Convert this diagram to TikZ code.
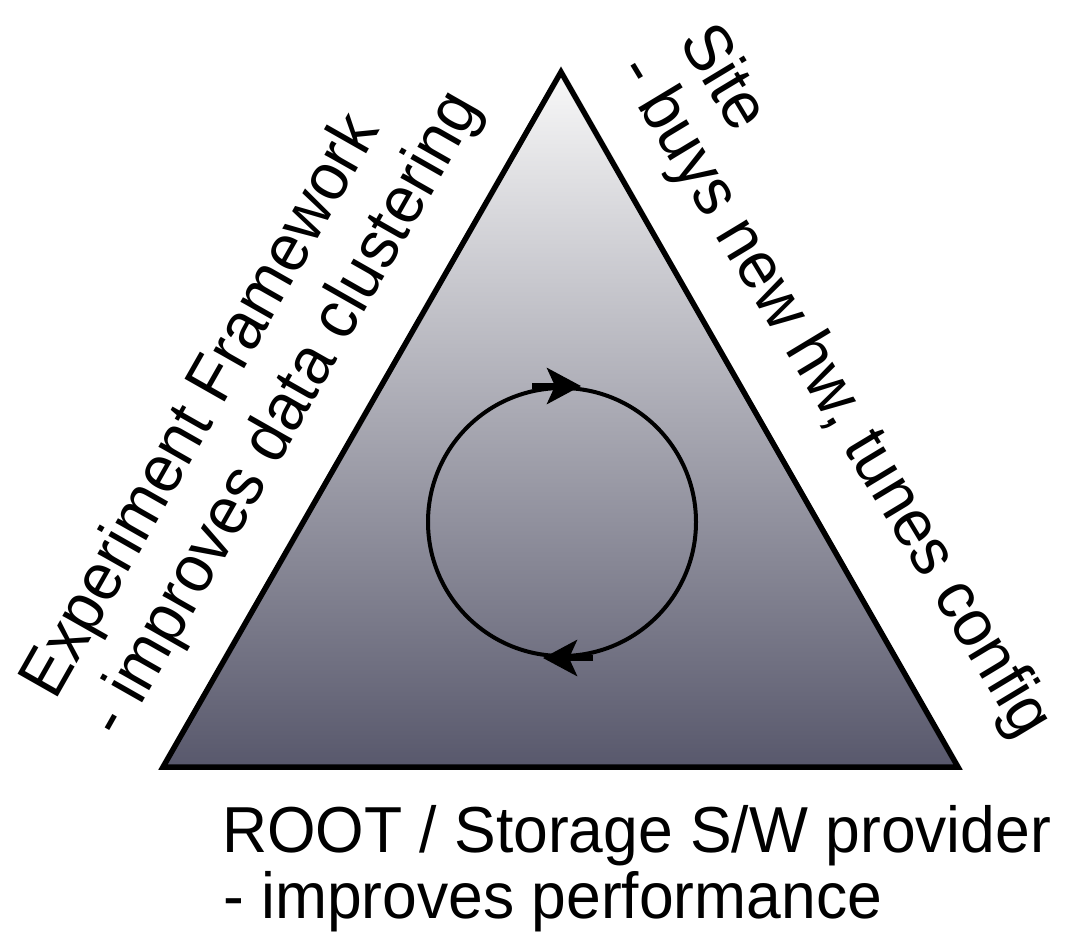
\documentclass[tikz,border=0pt]{standalone}
\usepackage{fontspec}
\setmainfont{Liberation Sans}[FakeStretch=0.95]
\newfontfamily\bottomfont{Liberation Sans}[FakeStretch=0.96]
\usetikzlibrary{arrows.meta}
\definecolor{tritop}{RGB}{248,248,248}
\definecolor{tribot}{RGB}{88,88,108}
\begin{document}
\begin{tikzpicture}[x=1pt,y=-1pt,
  lbl/.style={inner sep=0pt, anchor=base west, font=\bottomfont\fontsize{65}{66}\selectfont},
  sidelbl/.style={inner sep=0pt, anchor=base west, font=\fontsize{67}{68}\selectfont},
  cyclearrow/.style={line width=5.5pt, -{Stealth[length=34pt,width=36pt,inset=8pt]}}]
\useasboundingbox (0,0) rectangle (1082,934);
\coordinate (apex) at (561,72);
\coordinate (bl) at (163,767);
\coordinate (br) at (958,767);
\path[draw=black, line width=5.5pt, line join=miter, top color=tritop, bottom color=tribot] (apex) -- (bl) -- (br) -- cycle;
\node[circle, draw, line width=4pt, minimum size=268pt, inner sep=0pt] (cyc) at (562,522) {};
\draw[cyclearrow] ([xshift=-30pt]cyc.north) -- ([xshift=19pt]cyc.north);
\draw[cyclearrow] ([xshift=31pt]cyc.south) -- ([xshift=-19pt]cyc.south);
\node[sidelbl, rotate=60.4] (ef1) at (55,702) {Experiment Framework};
\node[sidelbl, rotate=60.4] (ef2) at (121.5,740.5) {- improves data clustering};
\node[sidelbl, rotate=-58.9] (st1) at (678,41) {Site};
\node[sidelbl, rotate=-58.9] (st2) at (616,71) {- buys new hw, tunes config};
\node[lbl] (rt1) at (222,852) {ROOT / Storage S/W provider};
\node[lbl] (rt2) at (223,918) {- improves performance};
\end{tikzpicture}
\end{document}
